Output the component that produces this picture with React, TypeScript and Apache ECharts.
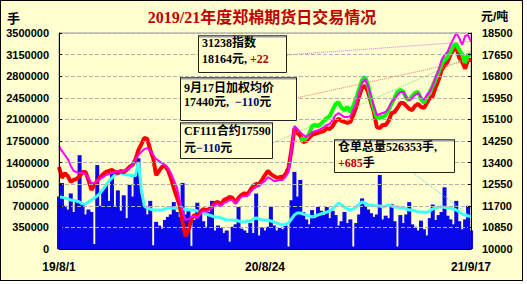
import React, { useEffect, useRef } from 'react';
import * as echarts from 'echarts';

const xTickLabels = ['19/8/1', '20/8/24', '21/9/17'];
const xTickIndex = [0, 70, 140];

// 成交量 (手) - blue bars, left axis
const volume = [
  850000, 1070000, 700000, 640000, 900000, 600000, 780000, 1520000, 720000, 560000,
  640000, 600000, 80000, 1360000, 700000, 950000, 1050000, 780000, 1230000, 700000,
  950000, 620000, 870000, 500000, 1040000, 850000, 1170000, 1470000, 900000, 700000,
  560000, 780000, 60000, 440000, 380000, 330000, 470000, 520000, 560000, 760000,
  600000, 520000, 1070000, 560000, 650000, 50000, 470000, 750000, 620000, 450000,
  360000, 600000, 780000, 300000, 380000, 340000, 260000, 300000, 120000, 360000,
  400000, 680000, 330000, 300000, 260000, 420000, 260000, 900000, 220000, 350000,
  300000, 360000, 680000, 380000, 300000, 340000, 320000, 380000, 40000, 790000,
  1250000, 850000, 1120000, 600000, 480000, 400000, 630000, 500000, 680000, 620000,
  550000, 680000, 500000, 620000, 550000, 380000, 450000, 600000, 420000, 480000,
  40000, 420000, 560000, 820000, 700000, 640000, 580000, 520000, 560000, 1200000,
  480000, 540000, 500000, 730000, 450000, 40000, 550000, 420000, 560000, 760000,
  400000, 360000, 300000, 460000, 320000, 220000, 500000, 720000, 470000, 550000,
  600000, 1000000, 540000, 480000, 400000, 780000, 450000, 320000, 480000, 700000,
  300000,
];

// 仓单总量 (手) - cyan line, left axis
const receipts = [
  843000, 840000, 826000, 810000, 794000, 790000, 778000, 762000, 729000, 732000,
  762000, 794000, 826000, 859000, 907000, 972000, 1037000, 1102000, 1150000, 1199000,
  1215000, 1231000, 1215000, 1199000, 1199000, 1183000, 1199000, 1410000, 956000, 697000,
  664000, 648000, 632000, 632000, 630000, 632000, 648000, 664000, 664000, 660000,
  664000, 664000, 648000, 648000, 632000, 632000, 628000, 616000, 600000, 583000,
  567000, 551000, 535000, 519000, 515000, 502000, 486000, 470000, 470000, 466000,
  470000, 454000, 438000, 438000, 454000, 450000, 486000, 502000, 486000, 470000,
  470000, 466000, 454000, 438000, 421000, 405000, 389000, 405000, 421000, 486000,
  551000, 583000, 583000, 567000, 551000, 535000, 519000, 535000, 551000, 567000,
  583000, 600000, 616000, 648000, 697000, 745000, 713000, 681000, 648000, 632000,
  648000, 681000, 729000, 762000, 745000, 713000, 713000, 710000, 697000, 697000,
  681000, 697000, 713000, 697000, 681000, 681000, 664000, 664000, 648000, 632000,
  632000, 616000, 600000, 600000, 600000, 596000, 616000, 648000, 664000, 681000,
  681000, 677000, 664000, 664000, 648000, 632000, 600000, 567000, 551000, 535000,
  526353,
];

// 加权均价 (元/吨) - red line, right axis
const avgPrice = [
  13230, 12800, 12990, 12870, 12640, 12720, 12760, 12870, 13030, 13030,
  12720, 12320, 12520, 12680, 12830, 12950, 13030, 13070, 13110, 13030,
  12990, 13070, 13030, 13110, 13230, 13310, 13540, 13900, 14130, 14370,
  14330, 13900, 13580, 12910, 13070, 13230, 13270, 13110, 12800, 12400,
  12050, 11730, 11060, 10510, 10750, 11180, 11340, 11260, 11460, 11570,
  11530, 11570, 11690, 11810, 11850, 11730, 11930, 11970, 12050, 12010,
  11810, 12010, 12130, 12200, 12130, 12320, 12480, 12560, 12560, 12720,
  12910, 13070, 12950, 12870, 12800, 12830, 12830, 12950, 13190, 13900,
  14760, 14570, 14450, 14210, 14250, 14370, 14490, 14530, 14570, 14610,
  14640, 14760, 14720, 14840, 15040, 15120, 15040, 15000, 14960, 15000,
  15270, 15590, 16020, 16340, 16420, 16180, 15780, 15390, 14800, 14760,
  14880, 14880, 15040, 15350, 15390, 15550, 15750, 15750, 15630, 15510,
  15470, 15630, 15710, 15590, 15550, 15750, 15940, 16020, 16370, 16650,
  17040, 17200, 17360, 17630, 17830, 17950, 17520, 17360, 17100, 17440,
  17440,
];

// CF111合约 (元/吨) - green line, right axis, starts at index 82
const cf111Start = 82;
const cf111 = [
  14370, 14290, 14370, 14530, 14840, 14880, 14840, 14920, 15040, 15160,
  15230, 15470, 15710, 15780, 15550, 15470, 15590, 15390, 15630, 15940,
  16300, 16650, 16770, 16450, 15940, 15510, 15160, 15190, 15190, 15270,
  15470, 15710, 15940, 16180, 16260, 16180, 15940, 15860, 16020, 16140,
  16180, 15900, 15750, 15980, 16180, 16420, 16690, 16960, 17280, 17440,
  17550, 17750, 17990, 18070, 17830, 17670, 17320, 17670, 17590,
];

// 31238指数 (元/吨) - magenta line, right axis
const index31238 = [
  14050, 13860, 13700, 13540, 13270, 13070, 13030, 12990, 12990, 12950,
  12800, 12600, 12600, 12680, 12760, 12830, 12910, 12950, 12990, 13030,
  13070, 13030, 13070, 13110, 13190, 13310, 13540, 13700, 13820, 13930,
  13970, 13860, 13700, 13540, 13460, 13380, 13310, 13190, 12990, 12720,
  12440, 11930, 11460, 11140, 11180, 11260, 11300, 11220, 11380, 11490,
  11460, 11530, 11610, 11730, 11770, 11690, 11810, 11850, 11930, 11930,
  11770, 11930, 12050, 12090, 12090, 12240, 12360, 12440, 12480, 12600,
  12680, 12830, 12760, 12680, 12680, 12720, 12720, 12830, 13030, 13900,
  14840, 14720, 14600, 14490, 14410, 14490, 14600, 14640, 14680, 14720,
  14800, 14880, 14920, 15080, 15270, 15350, 15270, 15190, 15190, 15230,
  15470, 15750, 16180, 16530, 16690, 16420, 16020, 15630, 15270, 15310,
  15350, 15390, 15550, 15780, 15900, 16060, 16180, 16180, 15980, 15860,
  15940, 16060, 16140, 15980, 15860, 16060, 16180, 16450, 16770, 17040,
  17440, 17630, 17750, 18030, 18260, 18500, 18300, 18030, 18380, 18420,
  18164,
];

const days = volume.map((_, i) => String(i));
const lastDay = days[days.length - 1];
const cf111Full: (number | null)[] = (new Array(cf111Start).fill(null) as (number | null)[]).concat(cf111);

const BG = '#FFFFD0';
const boxFont = '"Liberation Serif", "Noto Sans CJK SC"';
const labelFont = '"Liberation Sans", "Noto Sans CJK SC"';

function box(x: number, y: number, w: number, h: number, lines: any[]) {
  return {
    type: 'group',
    z: 100,
    children: [
      { type: 'rect', z: 100, shape: { x: x + 0.5, y: y + 0.5, width: w, height: h }, style: { fill: BG, stroke: '#222', lineWidth: 1 } },
      { type: 'line', z: 101, shape: { x1: x + 1, y1: y + 1.5, x2: x + w, y2: y + 1.5 }, style: { stroke: '#999', lineWidth: 2 } },
      ...lines.map((ln: any) => ({
        type: 'text',
        z: 102,
        x: ln.x,
        y: ln.y,
        style: {
          text: ln.text,
          fill: '#000',
          fontSize: 12,
          fontWeight: 'bold',
          fontFamily: boxFont,
          verticalAlign: 'middle',
          align: 'left',
          rich: {
            k: { fill: '#000', fontSize: 12, fontWeight: 'bold', fontFamily: boxFont },
            r: { fill: '#b00000', fontSize: 12, fontWeight: 'bold', fontFamily: boxFont },
            b: { fill: '#000080', fontSize: 12, fontWeight: 'bold', fontFamily: boxFont },
          },
        },
      })),
    ],
  };
}

function leader(x: number, y: number, value: number, color: string) {
  return {
    silent: true,
    symbol: ['none', 'none'],
    label: { show: false },
    lineStyle: { type: 'dotted', width: 1, color },
    data: [[{ x, y }, { coord: [lastDay, value] }]],
  };
}

export default function App() {
  const ref = useRef<HTMLDivElement>(null);
  useEffect(() => {
    document.body.style.margin = '0';
    const chart = echarts.init(ref.current!, null, { renderer: 'svg' });
    const axisLabelBase = { color: '#000', fontWeight: 'bold', fontSize: 11, fontFamily: labelFont };
    chart.setOption({
      animation: false,
      backgroundColor: 'transparent',
      grid: { left: 59, right: 56, top: 33, bottom: 35, show: true, borderColor: '#999', borderWidth: 1, backgroundColor: 'transparent' },
      xAxis: {
        type: 'category',
        data: days,
        boundaryGap: false,
        z: 10,
        axisLine: { show: true, lineStyle: { color: '#000', width: 1 } },
        axisTick: { show: false },
        splitLine: { show: false },
        axisLabel: {
          ...axisLabelBase,
          fontSize: 12,
          margin: 12,
          interval: (idx: number) => xTickIndex.includes(idx),
          formatter: (_v: string, idx: number) => {
            const k = xTickIndex.indexOf(idx);
            return k >= 0 ? xTickLabels[k] : '';
          },
        },
      },
      yAxis: [
        {
          type: 'value',
          min: 0,
          max: 3500000,
          interval: 350000,
          z: 10,
          axisLine: { show: true, lineStyle: { color: '#000' } },
          axisTick: { show: true, inside: true, length: 3, lineStyle: { color: '#000' } },
          splitLine: { show: true, lineStyle: { color: '#b0b0b0', type: 'dashed', width: 1 } },
          axisLabel: { ...axisLabelBase, margin: 10, formatter: (v: number) => String(Math.round(v)) },
        },
        {
          type: 'value',
          position: 'right',
          min: 10000,
          max: 18500,
          alignTicks: true,
          z: 10,
          axisLine: { show: true, lineStyle: { color: '#000' } },
          axisTick: { show: true, inside: true, length: 3, lineStyle: { color: '#000' } },
          splitLine: { show: false },
          axisLabel: { ...axisLabelBase, margin: 11, formatter: (v: number) => String(Math.round(v)) },
        },
      ],
      series: [
        {
          name: '成交量',
          type: 'bar',
          yAxisIndex: 0,
          data: volume,
          barWidth: 4,
          itemStyle: { color: '#0808e8' },
          z: 1,
        },
        {
          name: '仓单',
          type: 'line',
          yAxisIndex: 0,
          data: receipts,
          showSymbol: false,
          lineStyle: { color: '#40ffff', width: 3 },
          itemStyle: { color: '#40ffff' },
          z: 3,
          markLine: leader(412, 172, receipts[receipts.length - 1], '#40e0e0'),
        },
        {
          name: '加权均价',
          type: 'line',
          yAxisIndex: 1,
          data: avgPrice,
          showSymbol: false,
          lineStyle: { color: '#ff0000', width: 4 },
          itemStyle: { color: '#ff0000' },
          z: 4,
          markLine: leader(296, 98, avgPrice[avgPrice.length - 1], '#ff7070'),
        },
        {
          name: 'CF111',
          type: 'line',
          yAxisIndex: 1,
          data: cf111Full,
          showSymbol: false,
          connectNulls: false,
          lineStyle: { color: '#00ff00', width: 4 },
          itemStyle: { color: '#00ff00' },
          z: 5,
          markLine: leader(273, 143, cf111[cf111.length - 1], '#70d870'),
        },
        {
          name: '31238指数',
          type: 'line',
          yAxisIndex: 1,
          data: index31238,
          showSymbol: false,
          lineStyle: { color: '#ff00ff', width: 2 },
          itemStyle: { color: '#ff00ff' },
          z: 6,
          markLine: leader(287, 55, index31238[index31238.length - 1], '#e070e0'),
        },
      ],
      graphic: [
        {
          type: 'text', x: 262, y: 17, z: 100,
          style: { text: '2019/21年度郑棉期货日交易情况', fill: '#c00000', fontSize: 16, fontWeight: 'bold', fontFamily: boxFont, align: 'center', verticalAlign: 'middle' },
        },
        {
          type: 'text', x: 7, y: 18, z: 100,
          style: { text: '手', fill: '#000', fontSize: 13, fontWeight: 'bold', fontFamily: labelFont, align: 'left', verticalAlign: 'middle' },
        },
        {
          type: 'text', x: 481, y: 17, z: 100,
          style: { text: '元/吨', fill: '#000', fontSize: 12, fontWeight: 'bold', fontFamily: labelFont, align: 'left', verticalAlign: 'middle' },
        },
        box(198, 35, 88, 37, [
          { x: 202, y: 43, text: '{k|31238指数}' },
          { x: 202, y: 59, text: '{k|18164元, }{r|+22}' },
        ]),
        box(180, 77, 116, 43, [
          { x: 184, y: 88, text: '{k|9月17日加权均价}' },
          { x: 184, y: 102, text: '{k|17440元,  }{b|−110}{k|元}' },
        ]),
        box(180, 122, 92, 36, [
          { x: 184, y: 131, text: '{k|CF111合约17590}' },
          { x: 184, y: 148, text: '{k|元}{b|−110}{k|元}' },
        ]),
        box(334, 139, 120, 33, [
          { x: 338, y: 147, text: '{k|仓单总量526353手,}' },
          { x: 338, y: 163, text: '{r|+685}{k|手}' },
        ]),
      ],
    });
    return () => chart.dispose();
  }, []);
  return (
    <div style={{ position: 'relative', width: 527, height: 284, background: '#fff' }}>
      <div style={{ position: 'absolute', left: 0, top: 0, width: 523, height: 281, boxSizing: 'border-box', border: '1px solid #000', background: BG }} />
      <div ref={ref} style={{ position: 'absolute', left: 0, top: 0, width: 527, height: 284 }} />
    </div>
  );
}
